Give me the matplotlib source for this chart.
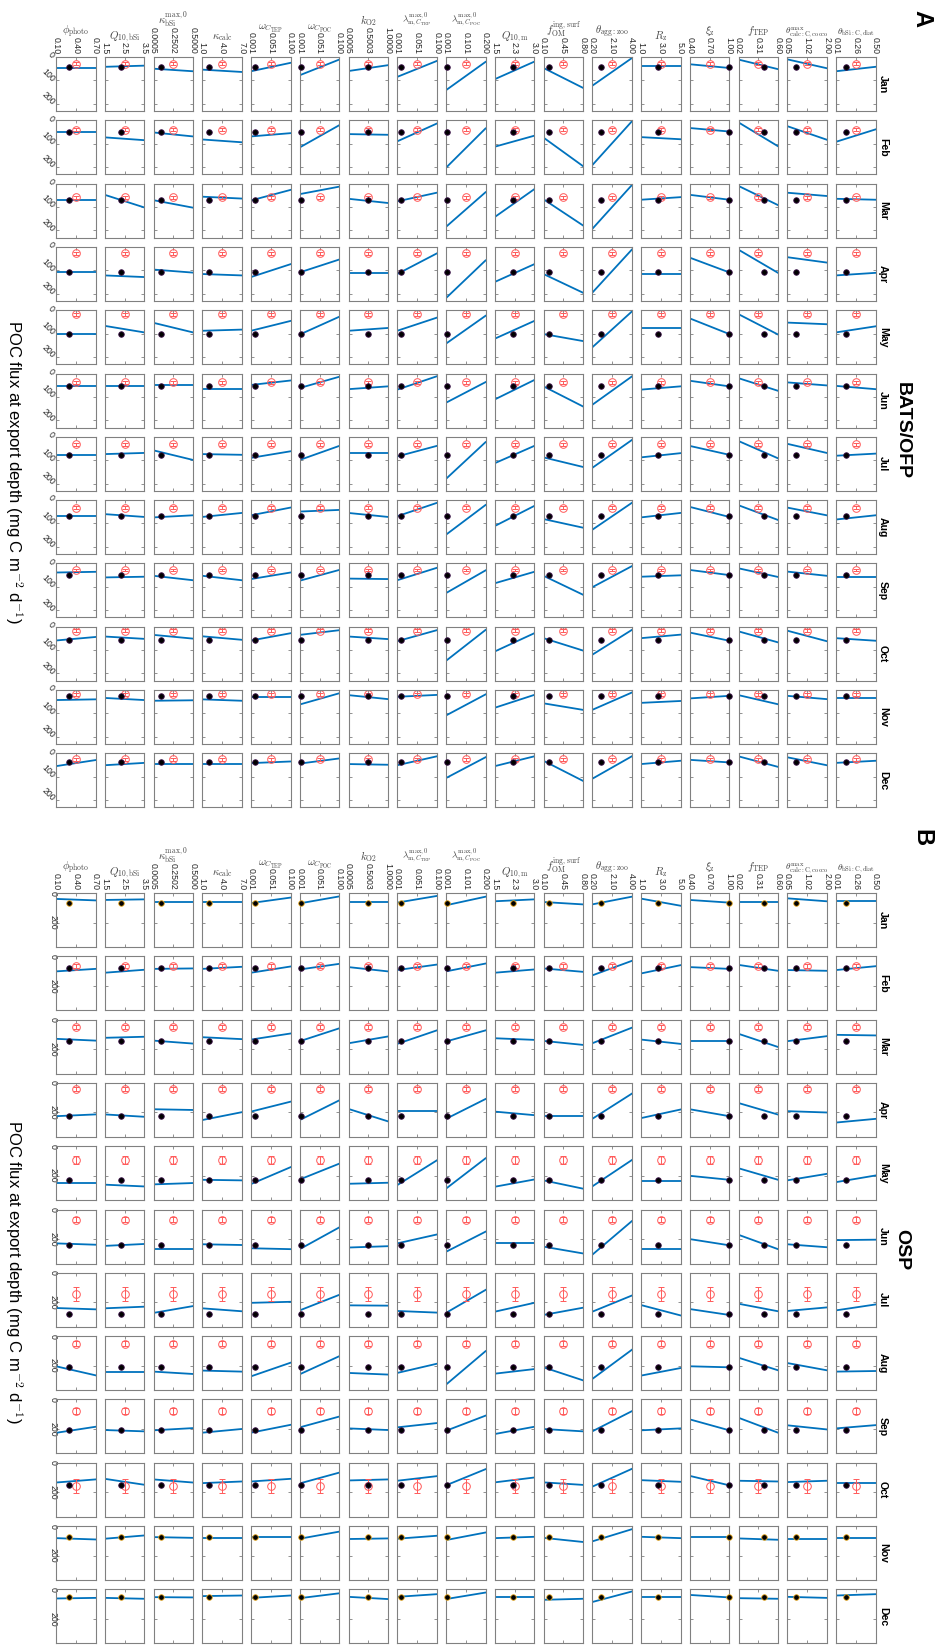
import numpy as np
import matplotlib.pyplot as plt

plt.rcParams['font.family'] = ['Liberation Sans', 'DejaVu Sans']
plt.rcParams['mathtext.fontset'] = 'cm'

months = ['Jan', 'Feb', 'Mar', 'Apr', 'May', 'Jun',
          'Jul', 'Aug', 'Sep', 'Oct', 'Nov', 'Dec']

param_labels = [r'$\phi_{\mathrm{photo}}$', r'$Q_{10,\mathrm{bSi}}$',
                r'$\kappa^{\mathrm{max},0}_{\mathrm{bSi}}$', r'$\kappa_{\mathrm{calc}}$',
                r'$\omega_{C_{\mathrm{TEP}}}$', r'$\omega_{C_{\mathrm{POC}}}$',
                r'$k_{\mathrm{O2}}$',
                r'$\lambda^{\mathrm{max},0}_{\mathrm{m},C_{\mathrm{TEP}}}$',
                r'$\lambda^{\mathrm{max},0}_{\mathrm{m},C_{\mathrm{POC}}}$',
                r'$Q_{10,\mathrm{m}}$', r'$f^{\mathrm{ing,surf}}_{\mathrm{OM}}$',
                r'$\theta_{\mathrm{agg:zoo}}$', r'$R_{\mathrm{z}}$', r'$\xi_{\mathrm{z}}$',
                r'$f_{\mathrm{TEP}}$', r'$\theta^{\mathrm{max}}_{\mathrm{calc:C,cocco}}$',
                r'$\theta_{\mathrm{bSi:C,diat}}$']

param_lo = [0.10, 1.5, 0.0005, 1.0, 0.001, 0.001, 0.0005, 0.001, 0.001,
            1.5, 0.10, 0.20, 1.0, 0.40, 0.02, 0.05, 0.01]
param_hi = [0.70, 3.5, 0.5000, 7.0, 0.100, 0.100, 1.0000, 0.100, 0.200,
            3.0, 0.80, 4.00, 5.0, 1.00, 0.60, 2.00, 0.50]
param_ticks = [['0.10', '0.40', '0.70'], ['1.5', '2.5', '3.5'],
               ['0.0005', '0.2502', '0.5000'], ['1.0', '4.0', '7.0'],
               ['0.001', '0.051', '0.100'], ['0.001', '0.051', '0.100'],
               ['0.0005', '0.5003', '1.0000'], ['0.001', '0.051', '0.100'],
               ['0.001', '0.101', '0.200'], ['1.5', '2.3', '3.0'],
               ['0.10', '0.45', '0.80'], ['0.20', '2.10', '4.00'],
               ['1.0', '3.0', '5.0'], ['0.40', '0.70', '1.00'],
               ['0.02', '0.31', '0.60'], ['0.05', '1.02', '2.00'],
               ['0.01', '0.26', '0.50']]
param_default = [0.30, 2.3, 0.10, 2.0, 0.010, 0.003, 0.50, 0.010, 0.006,
                 2.2, 0.20, 1.0, 2.7, 1.00, 0.40, 0.50, 0.13]

# BATS/OFP: flux at lowest and highest parameter value (mg C m-2 d-1)
bats_low = [
    [47, 42, 50, 54, 61, 78, 60, 85, 142, 95, 47, 123, 40, 31, 11, 10, 61],
    [49, 73, 52, 82, 69, 116, 59, 90, 203, 113, 74, 192, 72, 33, 9, 25, 92],
    [69, 48, 71, 56, 72, 45, 65, 76, 185, 143, 67, 194, 69, 48, 10, 39, 65],
    [109, 122, 97, 116, 129, 109, 113, 116, 219, 150, 116, 196, 116, 46, 12, 44, 122],
    [102, 67, 54, 88, 88, 104, 88, 88, 143, 122, 102, 159, 76, 35, 17, 53, 95],
    [55, 53, 49, 67, 49, 62, 67, 69, 125, 111, 55, 134, 69, 31, 20, 38, 53],
    [77, 74, 58, 74, 90, 99, 70, 84, 180, 113, 88, 133, 88, 39, 18, 30, 81],
    [69, 60, 74, 72, 65, 49, 55, 69, 148, 111, 81, 127, 74, 29, 22, 32, 83],
    [39, 60, 53, 53, 67, 74, 65, 72, 127, 85, 53, 102, 57, 28, 21, 35, 57],
    [59, 42, 35, 41, 59, 35, 42, 62, 146, 106, 49, 120, 49, 25, 20, 17, 49],
    [43, 34, 46, 40, 32, 62, 22, 29, 109, 76, 57, 85, 55, 36, 22, 25, 36],
    [55, 51, 44, 44, 42, 44, 46, 51, 106, 55, 32, 109, 46, 28, 13, 17, 41]]
bats_high = [
    [47, 37, 61, 64, 25, 11, 35, 17, 21, 20, 132, 5, 40, 47, 52, 48, 42],
    [49, 85, 69, 94, 55, 21, 62, 14, 35, 66, 196, 5, 81, 48, 111, 83, 39],
    [69, 102, 103, 64, 27, 13, 83, 39, 37, 24, 179, 7, 58, 69, 92, 53, 69],
    [109, 129, 110, 122, 74, 54, 113, 28, 58, 74, 196, 12, 116, 109, 111, 67, 111],
    [102, 95, 95, 83, 46, 28, 76, 32, 24, 46, 132, 6, 76, 102, 104, 60, 69],
    [55, 53, 49, 67, 30, 14, 55, 12, 37, 28, 141, 13, 55, 55, 74, 51, 67],
    [77, 69, 99, 77, 62, 39, 70, 39, 23, 39, 129, 14, 70, 77, 92, 69, 72],
    [69, 72, 65, 55, 32, 42, 72, 12, 21, 25, 118, 12, 55, 72, 85, 65, 65],
    [36, 57, 72, 72, 39, 28, 67, 19, 30, 36, 134, 12, 51, 50, 58, 53, 57],
    [44, 52, 51, 56, 28, 15, 53, 15, 14, 28, 102, 14, 34, 60, 67, 62, 60],
    [40, 43, 44, 46, 32, 14, 39, 21, 19, 21, 85, 11, 47, 25, 61, 39, 36],
    [29, 41, 44, 44, 35, 22, 49, 13, 17, 13, 118, 13, 32, 39, 58, 51, 32]]
bats_model = [41, 49, 69, 108, 102, 55, 77, 69, 48, 58, 25, 38]
bats_obs = [28, 41, 58, 27, 18, 37, 32, 32, 28, 17, 19, 25]
bats_err = [6, 6, 6, 6, 6, 6, 6, 6, 6, 6, 6, 6]

# OSP
osp_low = [
    [40, 47, 58, 58, 68, 70, 63, 65, 83, 56, 61, 77, 38, 47, 61, 36, 56],
    [102, 111, 85, 85, 111, 89, 73, 93, 102, 111, 82, 129, 116, 73, 58, 93, 93],
    [130, 123, 142, 119, 135, 146, 160, 164, 148, 126, 144, 160, 135, 142, 96, 146, 103],
    [225, 213, 178, 251, 194, 251, 176, 187, 243, 194, 223, 243, 238, 178, 136, 191, 268],
    [249, 260, 258, 227, 256, 225, 254, 263, 287, 274, 231, 272, 236, 200, 149, 231, 243],
    [229, 246, 266, 235, 262, 268, 257, 229, 286, 224, 251, 306, 264, 200, 171, 235, 207],
    [238, 240, 271, 240, 203, 254, 220, 258, 271, 263, 285, 263, 218, 245, 209, 258, 254],
    [204, 245, 240, 233, 272, 258, 249, 249, 328, 254, 211, 290, 267, 204, 146, 182, 240],
    [226, 207, 209, 225, 225, 189, 196, 189, 212, 234, 200, 216, 209, 135, 124, 175, 196],
    [134, 109, 113, 138, 127, 140, 120, 122, 153, 133, 133, 162, 118, 89, 122, 131, 135],
    [82, 86, 75, 80, 71, 86, 88, 86, 95, 82, 80, 104, 73, 71, 84, 88, 82],
    [62, 58, 53, 46, 58, 60, 51, 51, 66, 51, 71, 86, 51, 38, 60, 51, 42]]
osp_high = [
    [50, 43, 58, 58, 31, 23, 63, 20, 25, 43, 77, 25, 86, 65, 61, 56, 56],
    [85, 91, 82, 71, 69, 51, 102, 56, 49, 89, 105, 31, 60, 85, 98, 98, 67],
    [142, 116, 162, 132, 94, 59, 114, 73, 73, 137, 171, 55, 164, 142, 185, 112, 107],
    [213, 229, 183, 198, 127, 118, 260, 187, 109, 218, 223, 73, 180, 225, 214, 200, 243],
    [249, 272, 249, 231, 142, 118, 247, 96, 82, 225, 287, 94, 236, 227, 227, 187, 198],
    [238, 233, 266, 240, 268, 121, 248, 169, 150, 224, 297, 79, 264, 242, 268, 255, 204],
    [247, 229, 225, 260, 196, 149, 222, 269, 116, 203, 236, 154, 288, 285, 260, 234, 214],
    [265, 245, 256, 240, 180, 136, 260, 187, 102, 223, 299, 93, 216, 211, 231, 231, 236],
    [185, 216, 194, 200, 172, 116, 207, 160, 110, 185, 216, 80, 196, 209, 225, 203, 174],
    [113, 149, 134, 127, 109, 67, 113, 91, 44, 100, 150, 42, 129, 153, 127, 122, 135],
    [91, 64, 80, 80, 71, 38, 84, 66, 44, 73, 108, 22, 82, 71, 93, 88, 82],
    [58, 64, 55, 42, 42, 27, 66, 33, 22, 51, 64, 15, 51, 55, 64, 58, 33]]
osp_model = [65, 82, 146, 223, 227, 242, 280, 211, 207, 151, 75, 55]
osp_obs = [np.nan, 65, 50, 42, 93, 70, 145, 51, 78, 158, np.nan, np.nan]
osp_err = [0, 16, 16, 16, 30, 16, 47, 18, 18, 49, 0, 0]

W, H = 946, 1645
fig = plt.figure(figsize=(W / 100, H / 100), dpi=100)

GRAY = '#808080'
BLUE = '#0072BD'
RED = '#ff5a5a'
# long labels are set a little smaller so they fit over their column
small_labels = [7, 8, 15, 16]


def draw_panel(top, ymax, yticks, yrot, low, high, model, obs, err):
    for i in range(12):
        y0 = top + i * 63.3
        for j in range(17):
            x0 = 56 + j * 48.75
            ax = fig.add_axes([x0 / W, 1 - (y0 + 54) / H, 39.5 / W, 54 / H])
            lo, hi = param_lo[j], param_hi[j]
            mid = (lo + hi) / 2
            ax.plot([lo, hi], [low[i][j], high[i][j]], color=BLUE, lw=1.3)
            if not np.isnan(obs[i]):
                ax.errorbar(mid, obs[i], yerr=err[i], fmt='o', mfc='none', mec=RED,
                            ecolor=RED, ms=5.5, mew=0.7, elinewidth=0.7,
                            capsize=2.3, capthick=0.7, clip_on=False)
                edge = '#3b1248'
            else:
                edge = '#e8a81e'
            ax.plot(param_default[j], model[i], 'o', mfc='black', mec=edge,
                    ms=4.0, mew=0.6, clip_on=False, zorder=5)
            ax.set_xlim(lo, hi)
            ax.set_ylim(ymax, 0)
            ax.set_xticks([lo, mid, hi])
            ax.set_yticks(yticks)
            ax.tick_params(direction='in', length=2.2, width=0.6, color=GRAY,
                           top=True, right=True, labelsize=6.3,
                           labelcolor='#262626', pad=2)
            for s in ax.spines.values():
                s.set_color(GRAY)
                s.set_linewidth(0.8)
            if i == 0:
                ax.tick_params(labeltop=True, labelbottom=False)
                ax.set_xticklabels(param_ticks[j], rotation=-90)
                ax.xaxis.set_label_position('top')
                size = 6.7 if j in small_labels else 7.8
                pad = 7 if j in (7, 8) else 2
                ax.set_xlabel(param_labels[j], fontsize=size, color='#444444',
                              labelpad=pad)
            else:
                ax.tick_params(labelbottom=False)
            if j == 0:
                ax.set_yticklabels([str(t) for t in yticks], rotation=yrot,
                                   ha='right' if yrot == -45 else 'center',
                                   va='center', rotation_mode='anchor'
                                   if yrot == -45 else 'default')
            else:
                ax.tick_params(labelleft=False)
        fig.text(883 / W, 1 - (y0 + 27) / H, months[i], rotation=-90,
                 fontsize=7.6, fontweight='bold', ha='center', va='center')


draw_panel(57, 231, [0, 100, 200], -45, bats_low, bats_high,
           bats_model, bats_obs, bats_err)
draw_panel(893, 365, [0, 200], -90, osp_low, osp_high,
           osp_model, osp_obs, osp_err)

ylab = 'POC flux at export depth (mg C m$^{-2}$ d$^{-1}$)'
fig.text(14 / W, 1 - 472 / H, ylab, rotation=-90, fontsize=12,
         ha='center', va='center')
fig.text(14 / W, 1 - 1272 / H, ylab, rotation=-90, fontsize=12,
         ha='center', va='center')
fig.text(902 / W, 1 - 430 / H, 'BATS/OFP', rotation=-90, fontsize=14,
         fontweight='bold', ha='center', va='center')
fig.text(902 / W, 1 - 1250 / H, 'OSP', rotation=-90, fontsize=14,
         fontweight='bold', ha='center', va='center')
fig.text(922 / W, 1 - 18 / H, 'A', rotation=-90, fontsize=17,
         fontweight='bold', ha='center', va='center')
fig.text(922 / W, 1 - 838 / H, 'B', rotation=-90, fontsize=17,
         fontweight='bold', ha='center', va='center')

fig.savefig('out.png', dpi=100, facecolor='white')
